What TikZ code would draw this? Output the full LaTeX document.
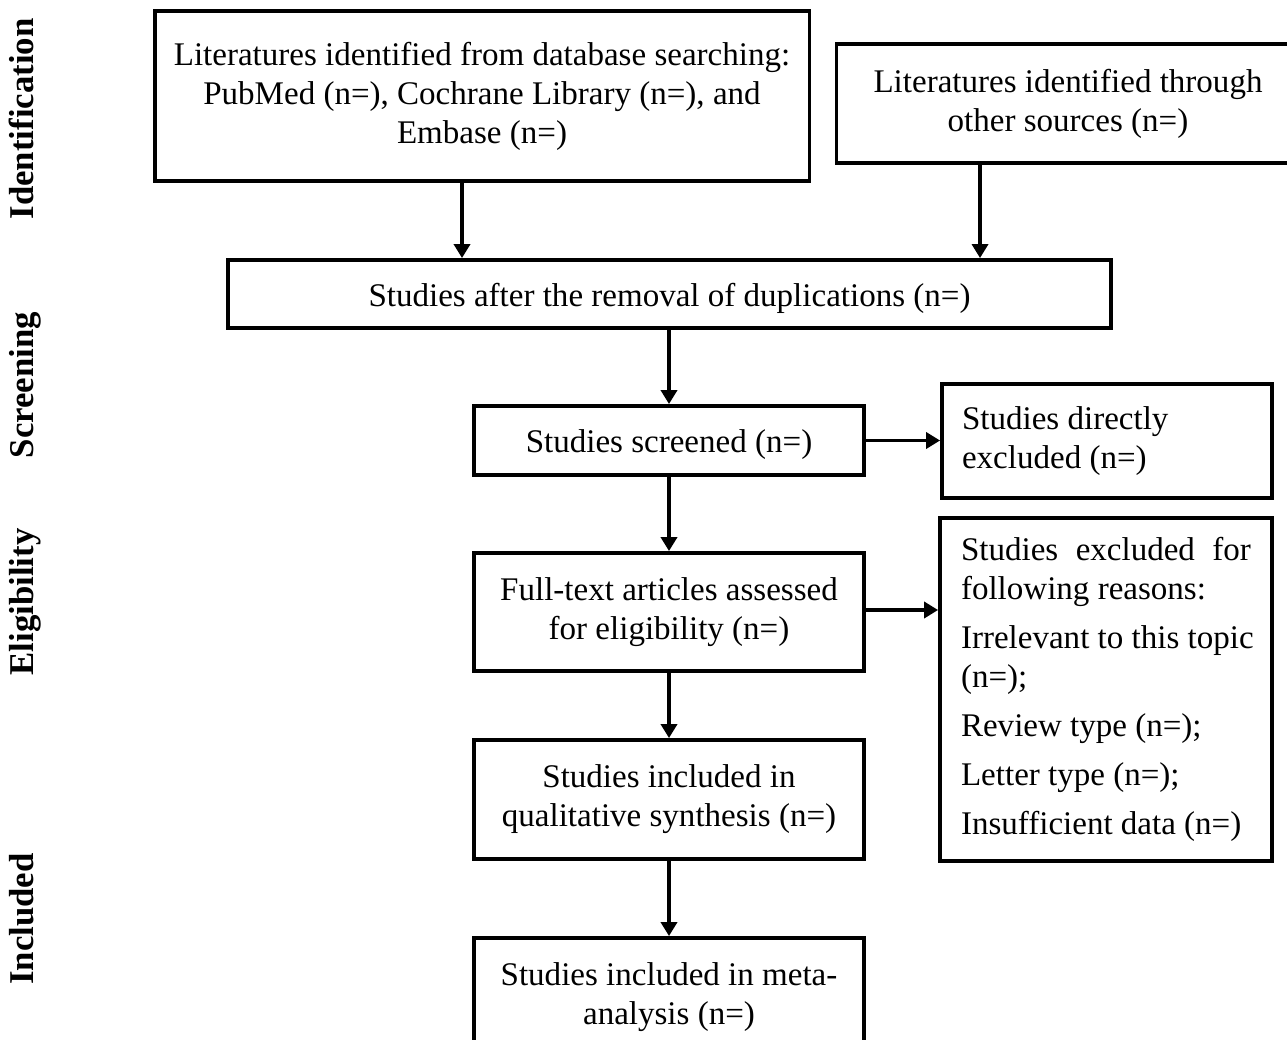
\documentclass[tikz,border=0pt]{standalone}
\usepackage{fontspec}
\setmainfont{Liberation Serif}
\usetikzlibrary{arrows.meta}
\newcommand{\fs}{\fontsize{18.8}{22.2}\selectfont}
\newcommand{\fsb}{\fontsize{19.8}{24}\selectfont\bfseries}
\newcommand{\low}[1]{\raisebox{-0.08cm}[\height][\depth]{#1}}
\begin{document}
\begin{tikzpicture}[x=0.02cm,y=-0.02cm,
  box/.style={draw, line width=2.2pt, inner sep=0pt, align=center, font=\fs},
  arr/.style={line width=2pt, -{Triangle[length=0.28cm,width=0.32cm]}},
  phase/.style={rotate=90, anchor=base, font=\fsb}]
\useasboundingbox (0,0) rectangle (1287,1040);
% phase labels
\node[phase] (pI) at (33,119) {Identification};
\node[phase] (pS) at (33,385) {Screening};
\node[phase] (pE) at (33,602) {Eligibility};
\node[phase] (pN) at (33,919) {Included};
% boxes
\node[box, minimum width=13.1cm, minimum height=3.4cm] (db) at (482,96)
  {Literatures identified from database searching:\\
   PubMed (n=), Cochrane Library (n=), and\\
   Embase (n=)};
\node[box, minimum width=9.26cm, minimum height=2.38cm] (oth) at (1068,103.5)
  {Literatures identified through\\ other sources (n=)};
\node[box, minimum width=17.66cm, minimum height=1.36cm] (dup) at (669.5,294)
  {\low{Studies after the removal of duplications (n=)}};
\node[box, minimum width=7.8cm, minimum height=1.38cm] (scr) at (669,440.5)
  {\low{Studies screened (n=)}};
\node[box, minimum width=6.6cm, minimum height=2.28cm, text width=5.8cm, align=flush left] (dex) at (1107,441)
  {Studies directly\\ excluded (n=)};
\node[box, minimum width=7.8cm, minimum height=2.36cm] (ft) at (669,612)
  {Full-text articles assessed\\ for eligibility (n=)};
\node[box, minimum width=6.64cm, minimum height=6.86cm, text width=5.8cm, align=flush left] (rex) at (1106,689.5)
  {\makebox[5.8cm][l]{Studies\hfill excluded\hfill for}\\
   following reasons:\\[0.2cm]
   \mbox{Irrelevant to this topic}\\
   (n=);\\[0.2cm]
   Review type (n=);\\[0.2cm]
   Letter type (n=);\\[0.2cm]
   Insufficient data (n=)};
\node[box, minimum width=7.8cm, minimum height=2.38cm] (qual) at (669,799.5)
  {Studies included in\\ qualitative synthesis (n=)};
\node[box, minimum width=7.8cm, minimum height=2.38cm] (meta) at (669,997.5)
  {Studies included in meta-\\ analysis (n=)};
% connectors
\draw[arr] ([xshift=-0.4cm]db.south) -- ([xshift=-0.4cm]db.south |- dup.north);
\draw[arr] ([xshift=-1.76cm]oth.south) -- ([xshift=-1.76cm]oth.south |- dup.north);
\draw[arr] (dup.south -| scr.north) -- (scr.north);
\draw[arr] (scr.east) -- (scr.east -| dex.west);
\draw[arr] (scr.south) -- (ft.north);
\draw[arr] ([yshift=0.04cm]ft.east) -- ([yshift=0.04cm]ft.east -| rex.west);
\draw[arr] (ft.south) -- (qual.north);
\draw[arr] (qual.south) -- (meta.north);
\end{tikzpicture}
\end{document}
